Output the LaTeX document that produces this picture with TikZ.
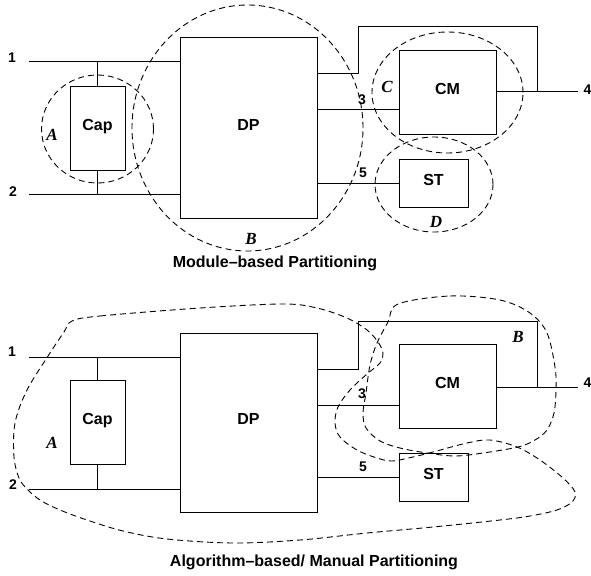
\documentclass[tikz,border=0pt]{standalone}
\usepackage{fontspec}
\setmainfont{Liberation Sans}
\newfontfamily\serifit{Liberation Serif}
\begin{document}
\begin{tikzpicture}[x=1pt,y=-1pt,
  every node/.style={inner sep=0pt},
  unit/.style={draw, line width=1pt, font=\bfseries\fontsize{16}{16}\selectfont,
               text height=11.5pt, text depth=7pt},
  wire/.style={line width=1pt},
  region/.style={dash pattern=on 6pt off 4pt, line width=0.9pt},
  pin/.style={font=\bfseries\fontsize{14}{14}\selectfont},
  tag/.style={font=\serifit\bfseries\itshape\fontsize{17}{17}\selectfont},
  caption/.style={font=\bfseries\fontsize{16}{16}\selectfont}]
\useasboundingbox (0,0) rectangle (591,575);

% ---------------- module-based partitioning ----------------
\node[unit, minimum width=137pt, minimum height=180pt] (dpA) at (248.5,128) {DP};
\node[unit, minimum width=55pt, minimum height=83pt] (capA) at (97.5,128.5) {Cap};
\node[unit, minimum width=97pt, minimum height=83pt] (cmA) at (447.5,92.5) {CM};
\node[unit, minimum width=69pt, minimum height=48pt] (stA) at (433.5,183) {ST};

\coordinate (inA1) at (29,62);
\coordinate (inA2) at (29,194);
\coordinate (outA4) at (578,92);
\coordinate (bendA1) at (358,74);
\coordinate (bendA2) at (537,27);
\coordinate (lvlA3) at (0,110);

\draw[wire] (inA1) -- (inA1 -| dpA.west);
\draw[wire] (inA2) -- (inA2 -| dpA.west);
\draw[wire] (capA.north) -- (capA.north |- inA1);
\draw[wire] (capA.south) -- (capA.south |- inA2);
\draw[wire] (bendA1 -| dpA.east) -- (bendA1) -- (bendA1 |- bendA2) -- (bendA2) -- (bendA2 |- outA4);
\draw[wire] (outA4 -| cmA.east) -- (outA4);
\draw[wire] (lvlA3 -| dpA.east) -- (lvlA3 -| cmA.west);
\draw[wire] (stA.west -| dpA.east) -- (stA.west);

\draw[region] (97.5,129) ellipse [x radius=56pt, y radius=54pt];
\draw[region] (247.5,128) ellipse [x radius=115.5pt, y radius=123pt];
\draw[region] (447.5,92.5) ellipse [x radius=75.5pt, y radius=60.5pt];
\draw[region] (434,184.5) ellipse [x radius=59pt, y radius=47.5pt];

\node[pin] (pA1) at (12,58) {1};
\node[pin] (pA2) at (13,192) {2};
\node[pin] (pA3) at (362,100) {3};
\node[pin] (pA5) at (363,173) {5};
\node[pin] (pA4) at (587.5,90) {4};
\node[tag] (tA) at (52,135) {A};
\node[tag] (tB) at (251,239) {B};
\node[tag] (tC) at (387,87) {C};
\node[tag] (tD) at (436,222) {D};
\node[caption] (capTop) at (275,263) {Module–based Partitioning};

% ---------------- algorithm-based / manual partitioning ----------------
\node[unit, minimum width=137pt, minimum height=179pt] (dpB) at (248.5,422.5) {DP};
\node[unit, minimum width=55pt, minimum height=84pt] (capB) at (97.5,422) {Cap};
\node[unit, minimum width=97pt, minimum height=84pt] (cmB) at (447.5,386) {CM};
\node[unit, minimum width=69pt, minimum height=48pt] (stB) at (433.5,477) {ST};

\coordinate (inB1) at (29,357);
\coordinate (inB2) at (29,489);
\coordinate (outB4) at (578,387);
\coordinate (bendB1) at (358,369);
\coordinate (bendB2) at (537,321);
\coordinate (lvlB3) at (0,405);

\draw[wire] (inB1) -- (inB1 -| dpB.west);
\draw[wire] (inB2) -- (inB2 -| dpB.west);
\draw[wire] (capB.north) -- (capB.north |- inB1);
\draw[wire] (capB.south) -- (capB.south |- inB2);
\draw[wire] (bendB1 -| dpB.east) -- (bendB1) -- (bendB1 |- bendB2) -- (bendB2) -- (bendB2 |- outB4);
\draw[wire] (outB4 -| cmB.east) -- (outB4);
\draw[wire] (lvlB3 -| dpB.east) -- (lvlB3 -| cmB.west);
\draw[wire] (stB.west -| dpB.east) -- (stB.west);

% region A: Cap, DP and ST
\draw[region] plot[smooth cycle, tension=0.55] coordinates {
  (72,321) (100,316) (200,308) (283,304) (317,308) (347,318) (367,330)
  (378,342) (383,353) (380,363) (367,374) (350,390) (338,407) (335,423)
  (340,437) (357,450) (377,458) (392,461) (413,457) (433,452) (467,443)
  (490,440) (517,447) (540,460) (563,478) (575,492) (572,502) (557,510)
  (530,516) (500,520) (433,527) (367,533) (300,540) (233,543) (167,539)
  (123,531) (87,520) (60,510) (40,500) (27,489) (19,478) (14,457)
  (15,423) (27,390) (50,353) (64,332)};
% region B: CM and its feedback loop
\draw[region] plot[smooth cycle, tension=0.55] coordinates {
  (398,304) (450,296) (500,300) (530,313) (547,333) (555,367) (556,390)
  (554,413) (547,430) (535,440) (518,447) (483,453) (455,456) (427,453)
  (400,448) (380,441) (366,428) (363,413) (366,393) (370,365) (377,343)
  (388,322)};

\node[pin] (pB1) at (12,352) {1};
\node[pin] (pB2) at (13,485) {2};
\node[pin] (pB3) at (362,394) {3};
\node[pin] (pB5) at (363,467) {5};
\node[pin] (pB4) at (587.5,383) {4};
\node[tag] (uA) at (52,443) {A};
\node[tag] (uB) at (518,337) {B};
\node[caption] (capBottom) at (314,562) {Algorithm–based/ Manual Partitioning};
\end{tikzpicture}
\end{document}
